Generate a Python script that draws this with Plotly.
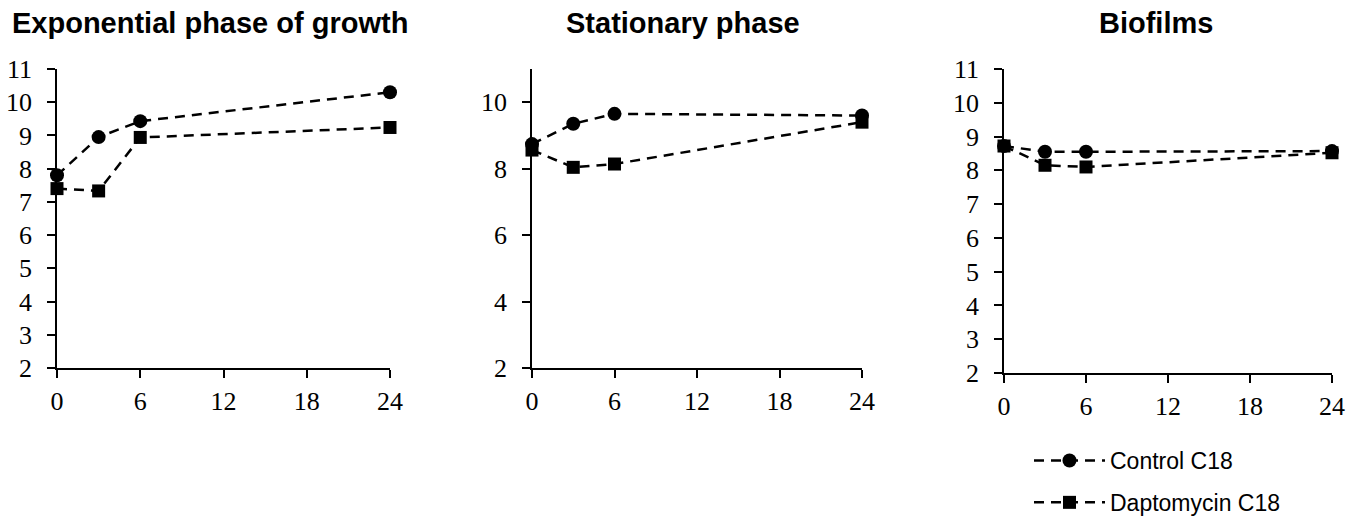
import plotly.graph_objects as go

# ---- data ----
hours = [0, 3, 6, 24]
exp_control = [7.8, 8.95, 9.43, 10.3]
exp_dapto = [7.4, 7.33, 8.94, 9.24]
stat_control = [8.74, 9.35, 9.65, 9.6]
stat_dapto = [8.56, 8.04, 8.14, 9.4]
bio_control = [8.72, 8.55, 8.55, 8.57]
bio_dapto = [8.72, 8.15, 8.1, 8.52]

titles = ["Exponential phase of growth", "Stationary phase", "Biofilms"]
series_names = ["Control C18", "Daptomycin C18"]
x_ticks = [0, 6, 12, 18, 24]

W, H = 1363, 520


def px_x(p):
    return p / W


def px_y(p):
    return 1 - p / H


panels = [
    dict(ctrl=exp_control, dap=exp_dapto, x0=57, x1=390, y0=69, y1=368, dtick=1, tcx=210),
    dict(ctrl=stat_control, dap=stat_dapto, x0=532, x1=862, y0=69, y1=368, dtick=2, tcx=683),
    dict(ctrl=bio_control, dap=bio_dapto, x0=1004, x1=1332, y0=69, y1=373, dtick=1, tcx=1156),
]

DASH = "10px,7px"
fig = go.Figure()
layout = dict(
    template="none",
    width=W, height=H,
    margin=dict(l=0, r=0, t=0, b=0, autoexpand=False),
    paper_bgcolor="white", plot_bgcolor="white",
    showlegend=True,
    legend=dict(
        x=px_x(1029), y=px_y(439), xanchor="left", yanchor="top",
        font=dict(family="Liberation Sans, Arial", size=23, color="black"),
        itemwidth=71, tracegroupgap=9, bgcolor="rgba(0,0,0,0)",
        traceorder="grouped",
    ),
    annotations=[],
)

for i, p in enumerate(panels):
    sfx = "" if i == 0 else str(i + 1)
    xa, ya = "x" + sfx, "y" + sfx
    fig.add_trace(go.Scatter(
        x=hours, y=p["ctrl"], xaxis=xa, yaxis=ya, mode="lines+markers",
        name=series_names[0], legendgroup="c", showlegend=(i == 2),
        line=dict(color="black", width=2.5, dash=DASH),
        marker=dict(symbol="circle", size=14, color="black"),
        cliponaxis=False,
    ))
    fig.add_trace(go.Scatter(
        x=hours, y=p["dap"], xaxis=xa, yaxis=ya, mode="lines+markers",
        name=series_names[1], legendgroup="d", showlegend=(i == 2),
        line=dict(color="black", width=2.5, dash=DASH),
        marker=dict(symbol="square", size=13, color="black"),
        cliponaxis=False,
    ))
    layout["xaxis" + sfx] = dict(
        domain=[px_x(p["x0"]), px_x(p["x1"])], anchor=ya,
        range=[0, 24], tickvals=x_ticks, ticktext=[str(v) for v in x_ticks],
        showline=True, linecolor="black", linewidth=1.5,
        ticks="outside", ticklen=8, tickwidth=1.5, tickcolor="black",
        showgrid=False, zeroline=False, fixedrange=True, automargin=False,
        tickfont=dict(family="Liberation Serif, Times New Roman", size=26, color="black"),
        ticklabelstandoff=1,
    )
    layout["yaxis" + sfx] = dict(
        domain=[px_y(p["y1"]), px_y(p["y0"])], anchor=xa,
        range=[2, 11], tick0=2, dtick=p["dtick"],
        showline=True, linecolor="black", linewidth=1.5,
        ticks="outside", ticklen=8, tickwidth=1.5, tickcolor="black",
        showgrid=False, zeroline=False, fixedrange=True, automargin=False,
        tickfont=dict(family="Liberation Serif, Times New Roman", size=26, color="black"),
        ticklabelstandoff=10,
    )
    layout["annotations"].append(dict(
        text="<b>" + titles[i] + "</b>", xref="paper", yref="paper",
        x=px_x(p["tcx"]), y=px_y(23), xanchor="center", yanchor="middle",
        showarrow=False,
        font=dict(family="Liberation Sans, Arial", size=29, color="black"),
    ))

fig.update_layout(**layout)
fig.write_html(
    "out.html",
    config={"displayModeBar": False},
    post_script="document.body.style.margin='0px';document.body.style.overflow='hidden';",
)
